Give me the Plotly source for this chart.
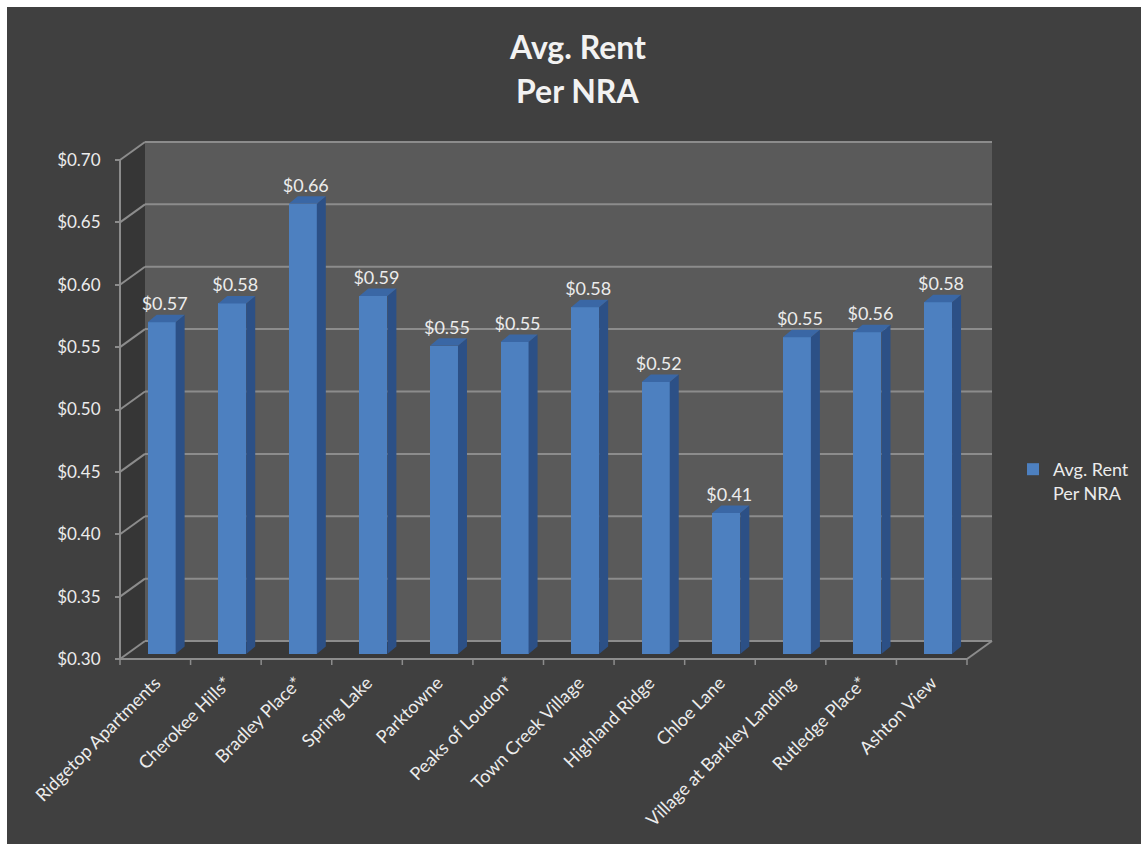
import plotly.graph_objects as go

# ---------------- data ----------------
categories = ["Ridgetop Apartments", "Cherokee Hills*", "Bradley Place*", "Spring Lake",
              "Parktowne", "Peaks of Loudon*", "Town Creek Village", "Highland Ridge",
              "Chloe Lane", "Village at Barkley Landing", "Rutledge Place*", "Ashton View"]
values = [0.566, 0.581, 0.661, 0.587, 0.547, 0.550, 0.578, 0.518, 0.413, 0.554, 0.558, 0.582]
y_ticks = [0.30, 0.35, 0.40, 0.45, 0.50, 0.55, 0.60, 0.65, 0.70]
series_name = "Avg. Rent<br>Per NRA"
title_lines = ["Avg. Rent", "Per NRA"]

# ---------------- geometry (pixels) ----------------
W, H = 1141, 844
PL, PR, PT, PB = 100, 1010, 130, 690          # plot area box
X0PX, Y0PX = 120, 659                         # front-left-bottom corner of the 3D box
CAT = 847 / 12                                # px per category
YS = 499 / 0.40                               # px per value unit
YMIN = 0.30

def ux(px):
    return px / CAT

def uy(px):
    return px / YS

def paper_x(px):
    return (px - PL) / (PR - PL)

def paper_y(py):
    return (PB - py) / (PB - PT)

n = len(categories)
xr = [-0.5 - ux(X0PX - PL), -0.5 + ux(PR - X0PX)]
yr = [YMIN - uy(PB - Y0PX), YMIN + uy(Y0PX - PT)]

DX, DY = ux(25), uy(18)          # full depth of the box
BOFF_X, BOFF_Y = 0.09, uy(5)     # bar front plane offset
BW = ux(28)                      # bar width
SX, SY = ux(9), uy(7.5)          # bar depth (side/top)
YMAX = y_ticks[-1]
XL, XRt = -0.5, n - 0.5

# colours
BG = "#404040"
WALL = "#5a5a5a"
SIDEWALL = "#363636"
FLOOR = "#383838"
GRID = "#8c8c8c"
FRONT = "#4d80c0"
SIDE = "#2c5086"
TOP = "#3a67a5"
TXT = "#ececec"
FONT = "Lato"

shapes = []
# dark page background with thin white border top/left
shapes.append(dict(type="rect", xref="paper", yref="paper", layer="below",
                   x0=paper_x(7), x1=paper_x(W + 5), y0=paper_y(H + 5), y1=paper_y(7),
                   fillcolor=BG, line=dict(width=0)))

def poly(pts, fill, layer="below"):
    path = "M " + " L ".join(f"{x},{y}" for x, y in pts) + " Z"
    return dict(type="path", xref="x", yref="y", path=path, fillcolor=fill,
                line=dict(width=0), layer=layer)

# back wall
shapes.append(poly([(XL + DX, YMIN + DY), (XRt + DX, YMIN + DY),
                    (XRt + DX, YMAX + DY), (XL + DX, YMAX + DY)], WALL))
# left wall
shapes.append(poly([(XL, YMIN), (XL + DX, YMIN + DY), (XL + DX, YMAX + DY), (XL, YMAX)], SIDEWALL))
# floor
shapes.append(poly([(XL, YMIN), (XRt, YMIN), (XRt + DX, YMIN + DY), (XL + DX, YMIN + DY)], FLOOR))

def line(x0, y0, x1, y1, color=GRID, width=2):
    return dict(type="line", xref="x", yref="y", x0=x0, y0=y0, x1=x1, y1=y1,
                line=dict(color=color, width=width), layer="below")

# gridlines: back wall + left wall diagonals
for v in y_ticks:
    shapes.append(line(XL + DX, v + DY, XRt + DX, v + DY))
    shapes.append(line(XL, v, XL + DX, v + DY))
# front edges
shapes.append(line(XL, YMIN, XL, YMAX))
shapes.append(line(XL, YMIN, XRt, YMIN))
shapes.append(line(XRt, YMIN, XRt + DX, YMIN + DY))
# category boundary ticks
for k in range(n + 1):
    shapes.append(line(k - 0.5, YMIN, k - 0.5, YMIN - uy(6), width=1.5))

fig = go.Figure()

xs = [i + BOFF_X for i in range(n)]
base = YMIN + BOFF_Y
heights = [v - YMIN for v in values]
tops = [base + h for h in heights]

# front faces
fig.add_trace(go.Bar(x=xs, y=heights, base=base, width=BW, name=series_name,
                     marker=dict(color=FRONT, line=dict(width=0)), showlegend=True,
                     hovertext=[f"{c}: ${v:.2f}" for c, v in zip(categories, values)],
                     hoverinfo="text"))

# side faces
sx, sy = [], []
for x, t in zip(xs, tops):
    r = x + BW / 2
    sx += [r, r + SX, r + SX, r, r, None]
    sy += [base, base + SY, t + SY, t, base, None]
fig.add_trace(go.Scatter(x=sx, y=sy, mode="lines", fill="toself", fillcolor=SIDE,
                         line=dict(width=0, color=SIDE), showlegend=False, hoverinfo="skip"))

# top faces
tx, ty = [], []
for x, t in zip(xs, tops):
    l, r = x - BW / 2, x + BW / 2
    tx += [l, r, r + SX, l + SX, l, None]
    ty += [t, t, t + SY, t + SY, t, None]
fig.add_trace(go.Scatter(x=tx, y=ty, mode="lines", fill="toself", fillcolor=TOP,
                         line=dict(width=0, color=TOP), showlegend=False, hoverinfo="skip"))

# value labels
fig.add_trace(go.Scatter(x=[x + SX / 3 for x in xs], y=[t + SY for t in tops], mode="text",
                         text=[f"${v:.2f}" for v in values], textposition="top center",
                         textfont=dict(family=FONT, size=18, color=TXT),
                         showlegend=False, hoverinfo="skip", cliponaxis=False))

annotations = [
    dict(text=f"<b>{title_lines[0]}</b>", xref="paper", yref="paper",
         x=paper_x(577), y=paper_y(46), xanchor="center", yanchor="middle",
         showarrow=False, font=dict(family=FONT, size=32, color="#f2f2f2")),
    dict(text=f"<b>{title_lines[1]}</b>", xref="paper", yref="paper",
         x=paper_x(577), y=paper_y(90), xanchor="center", yanchor="middle",
         showarrow=False, font=dict(family=FONT, size=32, color="#f2f2f2")),
]

fig.update_layout(
    width=W, height=H,
    margin=dict(l=PL, r=W - PR, t=PT, b=H - PB, autoexpand=False),
    paper_bgcolor="white", plot_bgcolor="rgba(0,0,0,0)",
    shapes=shapes, annotations=annotations,
    bargap=0,
    showlegend=True,
    legend=dict(x=paper_x(1013), y=paper_y(481), xanchor="left", yanchor="middle",
                bgcolor="rgba(0,0,0,0)", borderwidth=0, valign="top",
                font=dict(family=FONT, size=18, color=TXT)),
    xaxis=dict(range=xr, anchor="free", position=paper_y(Y0PX), tickmode="array",
               tickvals=list(range(n)), ticktext=categories, tickangle=-45,
               ticks="", showgrid=False, zeroline=False, showline=False,
               ticklabelstandoff=9,
               tickfont=dict(family=FONT, size=18, color=TXT), fixedrange=True),
    yaxis=dict(range=yr, anchor="free", position=paper_x(X0PX), tickmode="array",
               tickvals=y_ticks, ticktext=[f"${v:.2f}" for v in y_ticks],
               ticks="outside", ticklen=5, tickwidth=1.5, tickcolor=GRID,
               ticklabelstandoff=11,
               showgrid=False, zeroline=False, showline=False,
               tickfont=dict(family=FONT, size=17, color=TXT), fixedrange=True),
)

fig.write_html("out.html")
